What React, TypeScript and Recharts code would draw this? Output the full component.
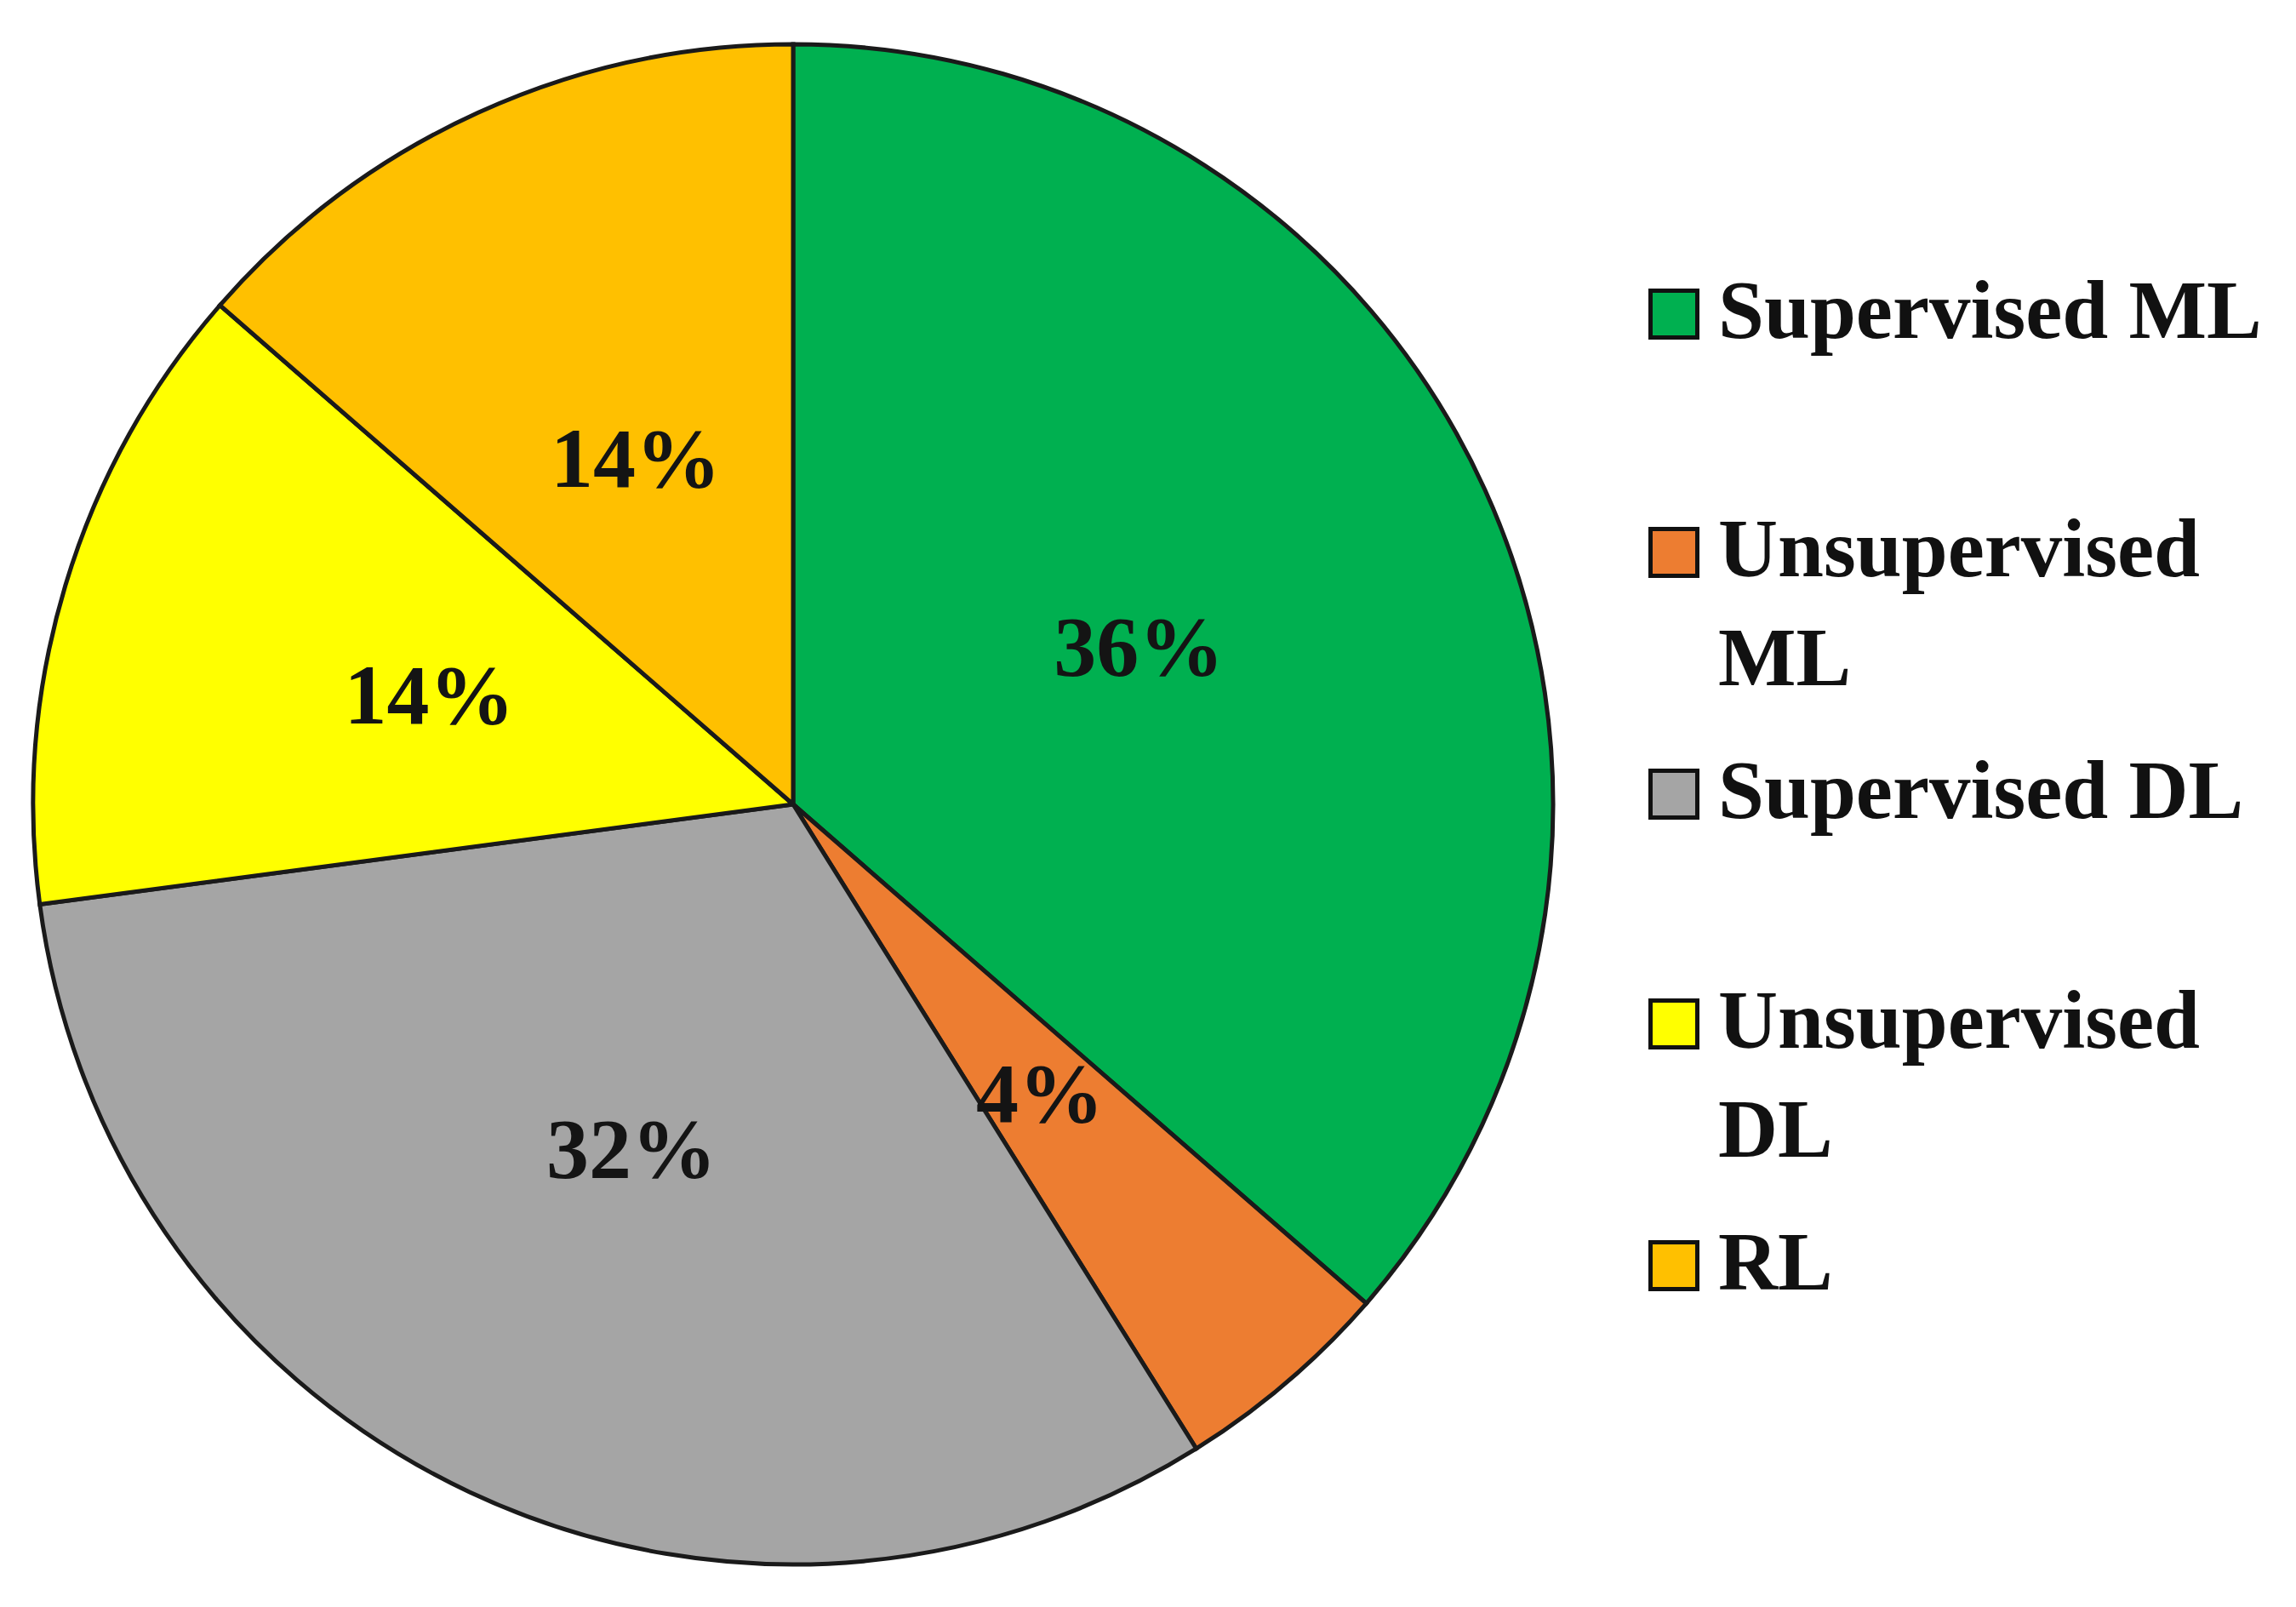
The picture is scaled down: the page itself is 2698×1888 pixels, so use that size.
import { Cell, Legend, Pie, PieChart } from 'recharts';

const categories = ['Supervised ML', 'Unsupervised ML', 'Supervised DL', 'Unsupervised DL', 'RL'];
// slice shares
const shares = [36.4, 4.7, 31.8, 13.5, 13.6];
// percentages printed on the slices
const sliceLabels = ['36%', '4%', '32%', '14%', '14%'];
const colors = ['#00B050', '#ED7D31', '#A5A5A5', '#FFFF00', '#FFC000'];

// vertical centre of first text line for each legend row
const legendRowCenters = [365, 645, 929, 1199, 1483];

const data = categories.map((name, i) => ({ name, value: shares[i] }));

const FONT = '"Liberation Serif", "DejaVu Serif", serif';
const RAD = Math.PI / 180;

function SliceLabel(props: any) {
  const { cx, cy, midAngle, outerRadius, index } = props;
  const r = outerRadius * 0.5;
  const x = cx + r * Math.cos(-midAngle * RAD);
  const y = cy + r * Math.sin(-midAngle * RAD);
  return (
    <text
      x={x}
      y={y}
      textAnchor="middle"
      dominantBaseline="central"
      fill="#141414"
      fontFamily={FONT}
      fontWeight="bold"
      fontSize={100}
    >
      {sliceLabels[index]}
    </text>
  );
}

function LegendBox() {
  return (
    <div style={{ position: 'relative', width: 740, height: 1888 }}>
      {categories.map((name, i) => (
        <div
          key={name}
          style={{
            position: 'absolute',
            left: 0,
            top: legendRowCenters[i] - 64,
            display: 'flex',
            alignItems: 'flex-start',
          }}
        >
          <div
            style={{
              width: 50,
              height: 50,
              marginTop: 38,
              background: colors[i],
              border: '5px solid #111',
              flexShrink: 0,
            }}
          />
          <div
            style={{
              marginLeft: 22,
              width: 670,
              fontFamily: FONT,
              fontWeight: 'bold',
              fontSize: 97,
              lineHeight: '128px',
              color: '#111',
            }}
          >
            {name}
          </div>
        </div>
      ))}
    </div>
  );
}

export default function App() {
  return (
    <div style={{ position: 'fixed', left: 0, top: 0, width: 2698, height: 1888, background: '#fff' }}>
      <PieChart width={2698} height={1888} margin={{ top: 0, right: 0, bottom: 0, left: 0 }}>
        <Pie
          data={data}
          dataKey="value"
          nameKey="name"
          cx={932}
          cy={945}
          outerRadius={893}
          startAngle={90}
          endAngle={-270}
          stroke="#1a1a1a"
          strokeWidth={5}
          label={SliceLabel}
          labelLine={false}
          isAnimationActive={false}
        >
          {data.map((d, i) => (
            <Cell key={d.name} fill={colors[i]} />
          ))}
        </Pie>
        <Legend
          content={<LegendBox />}
          wrapperStyle={{ position: 'absolute', left: 1937, top: 0, width: 740, height: 1888 }}
        />
      </PieChart>
    </div>
  );
}
